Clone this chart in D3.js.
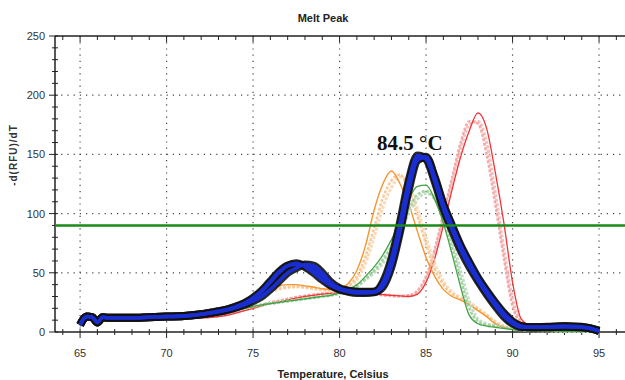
<!DOCTYPE html>
<html><head><meta charset="utf-8">
<script src="https://cdn.jsdelivr.net/npm/d3@7"></script>
<style>
body{margin:0;background:#fff;}
svg{display:block;}
</style></head>
<body><svg id="c" width="625" height="380"></svg>
<script>
const title = "Melt Peak";
const xTitle = "Temperature, Celsius";
const yTitle = "-d(RFU)/dT";
const annotation = "84.5 °C";
const xTicks = [65, 70, 75, 80, 85, 90, 95];
const yTicks = [0, 50, 100, 150, 200, 250];
const threshold = 90;

const temps = [65,65.2,65.4,65.7,66,66.3,66.6,67,68,69,70,71,72,73,73.5,74,74.5,75,75.5,76,76.5,77,77.5,78,78.5,79,79.5,80,80.5,81,81.5,82,82.5,83,83.5,84,84.5,85,85.5,86,86.5,87,87.5,88,88.5,89,89.5,90,90.5,91,92,93,94,94.5,95];

const redSolid   = [5,10,12,11.5,7,11,11,11,11,11,11.5,12,12,13,14,16,18,20,22,24,25.5,27,28.5,30,31,32,32.5,33,33,33,32.5,32,31.5,31,30.5,30,32,42,62,90,120,148,170,185,172,135,92,42,11,6,5,5,4,3,1];
const redPale1   = [5,10,12,11.5,7,11,11,11,11,11,11.5,12,12.5,13.5,15,17,19,21,23,25,26.5,28,29.5,30.5,31.5,32.5,33,33.5,33.5,33,32.5,32,31.5,31,30.5,31,35,47,70,100,130,160,178,176,150,108,62,22,8,6,5.5,5,4.5,3,1];
const redPale2   = [5,10,12,11.5,7,11,11,11,11,11,11.5,12,12.5,13.5,15,16.5,18.5,20.5,22.5,24.5,26,27.5,29,30.5,31.5,32,32.5,33,33,33,32.5,32,31,30.5,30,30.5,33,44,66,95,126,155,175,178,160,118,70,28,9,6,5.5,5,4.5,3,1];

const orangeSolid= [6,11,13,12.5,8,12,12,12,12,12.5,13,14,16,19,21,24,27,31,34,37,39,40,40,39,38,36.5,36,37,41,52,73,103,125,136,125,108,85,63,47,36,30,27,23,18,13,7,4,2.5,2,1.5,1,1,0.5,0.5,0];
const orangePale1= [6,11,13,12.5,8,12,12,12,12,12.5,13,14,16,18.5,20.5,23,26,29,32,35,37,38,38.5,38,37,36,35.5,36,39,47,64,88,113,128,133,120,98,74,53,40,32,28,24,19,14,8,4.5,3,2,1.5,1,1,0.5,0.5,0];
const orangePale2= [6,11,13,12.5,8,12,12,12,12,12.5,13,14,15.5,18,20,22.5,25,28,31,34,36,37.5,38,37.5,36.5,35.5,35,35.5,38,44,58,80,105,122,131,124,104,80,58,43,34,29,25,20,15,9,5,3,2,1.5,1,1,0.5,0.5,0];

const greenSolid = [5,10,12,11.5,7,11,11,11,11,11,11.5,12,13.5,15.5,17,18.5,20,21.5,23,24,25,26,27,28,29,30,31,33,36,40,47,55,65,78,93,112,123,124,112,92,66,38,14,7,5,4,3,2,1.5,1,1,0.5,0.5,0.5,0];
const greenPale1 = [5,10,12,11.5,7,11,11,11,11,11,11.5,12,13.5,15.5,17,18.5,20,21.5,23,24,25,26,27,28,29,30,31,32.5,35,39,45,52,61,73,88,104,116,119,112,95,72,45,20,9,6,5,4,2.5,1.5,1,1,0.5,0.5,0.5,0];
const greenPale2 = [5,10,12,11.5,7,11,11,11,11,11,11.5,12,13.5,15.5,17,18.5,20,21.5,23,24,25,26,27,28,29,30,31,32.5,35,38,44,50,58,70,84,100,112,117,114,100,78,52,26,11,7,5.5,4,3,2,1,1,0.5,0.5,0.5,0];

const blueA = [6,11,13,12.5,8,12.5,12,12,12,12.5,13,13.5,15,17.5,19,21,24,28,34,42,50,56,58,55,50,44,39,36,34.5,34,34,34,42,62,93,128,149,146,127,104,86,69,55,43,32,22,13,7,4,4,4,4.5,4,3,1];
const blueB = [6,11,13,12.5,8,12.5,12,12,12,12.5,13,13.5,15,17,18.5,20.5,23,26,30,36,43,50,54,57,56,50,42,37,35,34,33.5,34,40,58,88,124,147,147,130,107,89,72,58,45,34,24,15,8,5,4,4.5,5,4.5,3,1];
const blueC = [6,11,13,12.5,8,12.5,12,12,12,12.5,13,13.5,15,17.5,19,21.5,24.5,29,35,43,51,56,57,56,53,47,40,36,34,33,33,33.5,38,55,85,120,145,148,131,108,90,73,59,46,35,25,16,9,5,4,4,4.5,4,3,1];

const sansFont = "'Liberation Sans Narrow','Arial Narrow','Liberation Sans',Arial,sans-serif";
const serifFont = "'Liberation Serif','Times New Roman',serif";
const svg = d3.select("#c");
const x = d3.scaleLinear().domain([63.55, 96.5]).range([55, 625]);
const y = d3.scaleLinear().domain([0, 250]).range([332, 36]);
const x0 = x.range()[0], x1 = x.range()[1];
const axisCol = "#222";

// grid (dotted)
const grid = svg.append("g");
xTicks.forEach(t => grid.append("line").attr("x1", x(t)).attr("x2", x(t)).attr("y1", y(250)).attr("y2", y(0))
  .attr("stroke", "#444").attr("stroke-width", 1.2).attr("stroke-dasharray", "1.2,5"));
yTicks.filter(v => v > 0 && v < 250).forEach(v => grid.append("line").attr("x1", x0).attr("x2", x1).attr("y1", y(v)).attr("y2", y(v))
  .attr("stroke", "#444").attr("stroke-width", 1.2).attr("stroke-dasharray", "1.2,5"));

// axes
const ax = svg.append("g");
const xMinor = d3.range(64, 97, 1);
const yMinor = d3.range(0, 251, 10);
ax.append("line").attr("x1", x0).attr("x2", x1).attr("y1", y(0)).attr("y2", y(0)).attr("stroke", axisCol).attr("stroke-width", 1.5);
ax.append("line").attr("x1", x0).attr("x2", x1).attr("y1", y(250)).attr("y2", y(250)).attr("stroke", axisCol).attr("stroke-width", 1.5);
ax.append("line").attr("x1", x0).attr("x2", x0).attr("y1", y(0)).attr("y2", y(250)).attr("stroke", axisCol).attr("stroke-width", 1.5);
xMinor.forEach(t => {
  const major = t % 5 === 0;
  ax.append("line").attr("x1", x(t)).attr("x2", x(t)).attr("y1", y(0) - 3).attr("y2", y(0) + (major ? 6 : 3)).attr("stroke", axisCol).attr("stroke-width", 1);
  ax.append("line").attr("x1", x(t)).attr("x2", x(t)).attr("y1", y(250)).attr("y2", y(250) + (major ? 6 : 4)).attr("stroke", axisCol).attr("stroke-width", 1);
});
yMinor.forEach(v => {
  const major = v % 50 === 0;
  ax.append("line").attr("x1", x0 - (major ? 6 : 3)).attr("x2", x0 + 3).attr("y1", y(v)).attr("y2", y(v)).attr("stroke", axisCol).attr("stroke-width", 1);
});
xTicks.forEach(t => ax.append("text").attr("x", x(t)).attr("y", 357).attr("text-anchor", "middle")
  .style("font-family", sansFont).attr("font-size", 11).attr("fill", "#333").text(t));
yTicks.forEach(v => ax.append("text").attr("x", 45).attr("y", y(v) + 4).attr("text-anchor", "end")
  .style("font-family", sansFont).attr("font-size", 11).attr("fill", "#333").text(v));

svg.append("text").attr("x", 323).attr("y", 22).attr("text-anchor", "middle").attr("font-size", 11)
  .style("font-family", sansFont).attr("font-weight", "bold").attr("fill", "#222").text(title);
svg.append("text").attr("x", 333).attr("y", 378).attr("text-anchor", "middle").attr("font-size", 11)
  .style("font-family", sansFont).attr("font-weight", "bold").attr("fill", "#222").text(xTitle);
svg.append("text").attr("transform", "translate(17,155) rotate(-90)").attr("text-anchor", "middle").attr("font-size", 10)
  .style("font-family", sansFont).attr("font-weight", "bold").attr("fill", "#333").attr("letter-spacing", 1).text(yTitle);

// curves
const line = d3.line().x((d, i) => x(temps[i])).y(d => y(d)).curve(d3.curveMonotoneX);
const plot = svg.append("g");
function draw(data, color, width, opacity, dash) {
  const p = plot.append("path").datum(data).attr("d", line).attr("fill", "none")
    .attr("stroke", color).attr("stroke-width", width).attr("stroke-opacity", opacity)
    .attr("stroke-linejoin", "round");
  if (dash) p.attr("stroke-dasharray", dash);
}
draw(redPale2, "#f5b8b8", 3, 0.9, "3,1.5");
draw(redPale1, "#f2a2a2", 2.5, 0.9, "3,1.5");
draw(redSolid, "#ee3535", 1.3, 1);
draw(orangePale2, "#f9d6b0", 3, 0.9, "3,1.5");
draw(orangePale1, "#f7c490", 2.5, 0.9, "3,1.5");
draw(orangeSolid, "#f5952f", 1.4, 1);
draw(greenPale2, "#bcdcbc", 3, 0.9, "3,1.5");
draw(greenPale1, "#9ccc9c", 2.5, 0.9, "3,1.5");
draw(greenSolid, "#43a343", 1.3, 1);
// threshold line
svg.append("line").attr("x1", x0).attr("x2", x1).attr("y1", y(threshold)).attr("y2", y(threshold))
  .attr("stroke", "#1a8a1a").attr("stroke-width", 2.5);
[blueA, blueB, blueC].forEach(s => draw(s, "#111", 8, 0.9));
[blueA, blueB, blueC].forEach(s => draw(s, "#1a2ed0", 3.5, 1));

svg.append("text").attr("x", 377).attr("y", 150).style("font-family", serifFont)
  .attr("font-size", 21).attr("font-weight", "bold").attr("fill", "#111").text(annotation);
</script></body></html>
